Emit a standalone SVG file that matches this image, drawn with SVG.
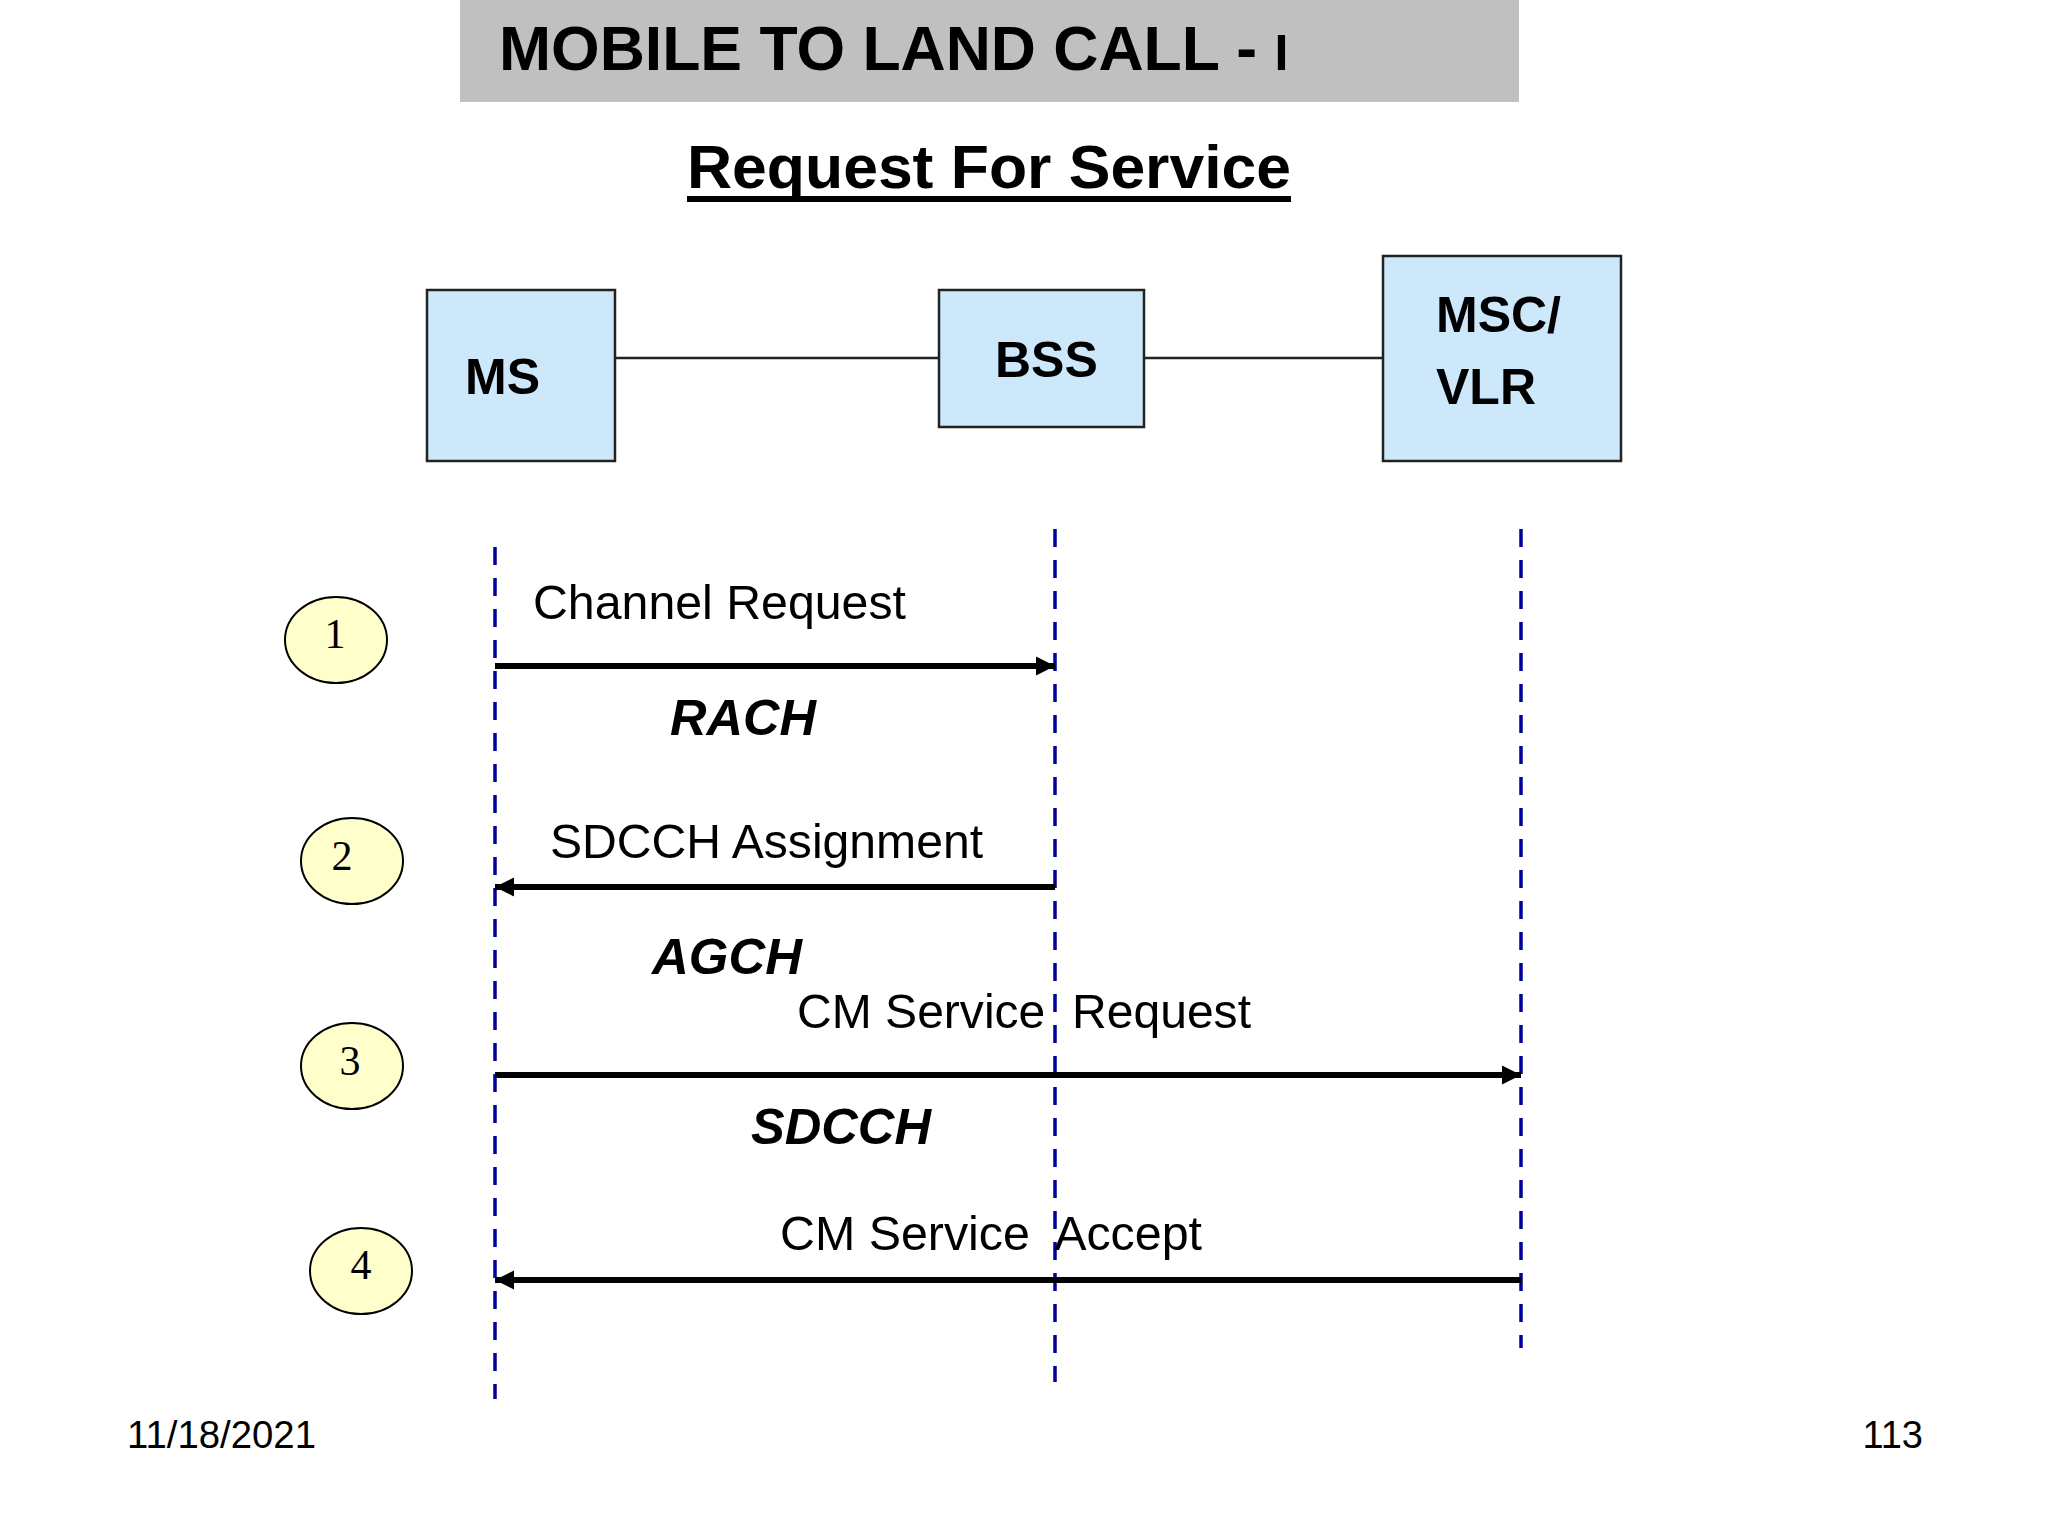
<svg xmlns="http://www.w3.org/2000/svg" width="2048" height="1536" viewBox="0 0 2048 1536">
<style>
.sans{font-family:"Liberation Sans",Arial,sans-serif;fill:#000}
.b{font-weight:bold}
.bi{font-weight:bold;font-style:italic}
.box{fill:#cce8fa;stroke:#222;stroke-width:2.5}
.link{stroke:#222;stroke-width:2.5;fill:none}
.life{stroke:#00009c;stroke-width:3.5;stroke-dasharray:18 13;fill:none}
.msg{stroke:#000;stroke-width:6;fill:none}
.step{fill:#ffffcc;stroke:#000;stroke-width:2}
.num{font-family:"Liberation Serif","Times New Roman",serif;font-size:42px;text-anchor:middle;fill:#000}
.lbl{font-size:48px}
.ch{font-size:50px}
</style>
<defs>
<marker id="ah" viewBox="0 0 10 10" refX="10" refY="5" markerWidth="3.2" markerHeight="3.2" orient="auto" markerUnits="strokeWidth">
<path d="M0,0 L10,5 L0,10 Z" fill="#000"/>
</marker>
</defs>
<rect width="2048" height="1536" fill="#ffffff"/>
<g id="title">
<rect x="460" y="0" width="1059" height="102" fill="#c0c0c0"/>
<text class="sans b" x="499" y="70" font-size="63" xml:space="preserve"><tspan textLength="758" lengthAdjust="spacingAndGlyphs">MOBILE TO LAND CALL -</tspan> <tspan font-size="50">I</tspan></text>
</g>
<g id="subtitle">
<text class="sans b" x="687" y="188" font-size="62" textLength="604" lengthAdjust="spacingAndGlyphs">Request For Service</text>
<rect x="687" y="196" width="604" height="6" fill="#000"/>
</g>
<g id="connectors">
<line class="link" x1="615" y1="358" x2="939" y2="358"/>
<line class="link" x1="1144" y1="358" x2="1383" y2="358"/>
<line class="life" x1="495" y1="547" x2="495" y2="1399"/>
<line class="life" x1="1055" y1="529" x2="1055" y2="1382"/>
<line class="life" x1="1521" y1="529" x2="1521" y2="1348"/>
<line class="msg" x1="495" y1="666" x2="1055" y2="666" marker-end="url(#ah)"/>
<line class="msg" x1="1055" y1="887" x2="495" y2="887" marker-end="url(#ah)"/>
<line class="msg" x1="495" y1="1075" x2="1521" y2="1075" marker-end="url(#ah)"/>
<line class="msg" x1="1521" y1="1280" x2="495" y2="1280" marker-end="url(#ah)"/>
</g>
<g id="node-ms">
<rect class="box" x="427" y="290" width="188" height="171"/>
<text class="sans b" x="465" y="394" font-size="50">MS</text>
</g>
<g id="node-bss">
<rect class="box" x="939" y="290" width="205" height="137"/>
<text class="sans b" x="995" y="377" font-size="50">BSS</text>
</g>
<g id="node-msc">
<rect class="box" x="1383" y="256" width="238" height="205"/>
<text class="sans b" x="1436" y="332" font-size="50">MSC/</text>
<text class="sans b" x="1436" y="404" font-size="50">VLR</text>
</g>
<g id="labels">
<text class="sans lbl" x="533" y="619" textLength="373" lengthAdjust="spacingAndGlyphs">Channel Request</text>
<text class="sans bi ch" x="670" y="735" textLength="146" lengthAdjust="spacingAndGlyphs">RACH</text>
<text class="sans lbl" x="550" y="858" textLength="433" lengthAdjust="spacingAndGlyphs">SDCCH Assignment</text>
<text class="sans bi ch" x="652" y="974" textLength="150" lengthAdjust="spacingAndGlyphs">AGCH</text>
<text class="sans lbl" x="797" y="1028" textLength="454" lengthAdjust="spacingAndGlyphs" xml:space="preserve">CM Service  Request</text>
<text class="sans bi ch" x="751" y="1144" textLength="180" lengthAdjust="spacingAndGlyphs">SDCCH</text>
<text class="sans lbl" x="780" y="1250" textLength="422" lengthAdjust="spacingAndGlyphs" xml:space="preserve">CM Service  Accept</text>
</g>
<g id="step-1">
<ellipse class="step" cx="336" cy="640" rx="51" ry="43"/>
<text class="num" x="335" y="648">1</text>
</g>
<g id="step-2">
<ellipse class="step" cx="352" cy="861" rx="51" ry="43"/>
<text class="num" x="342" y="870">2</text>
</g>
<g id="step-3">
<ellipse class="step" cx="352" cy="1066" rx="51" ry="43"/>
<text class="num" x="350" y="1075">3</text>
</g>
<g id="step-4">
<ellipse class="step" cx="361" cy="1271" rx="51" ry="43"/>
<text class="num" x="361" y="1279">4</text>
</g>
<g id="footer">
<text class="sans" x="127" y="1448" font-size="38" textLength="189" lengthAdjust="spacingAndGlyphs">11/18/2021</text>
<text class="sans" x="1923" y="1448" font-size="38" text-anchor="end">113</text>
</g>
</svg>
